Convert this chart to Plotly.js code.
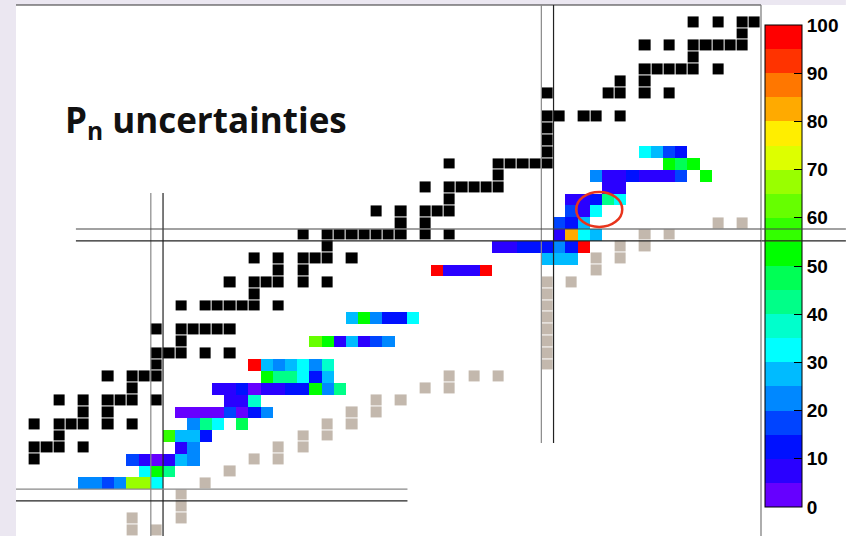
<!DOCTYPE html>
<html><head><meta charset="utf-8">
<script src="https://cdn.plot.ly/plotly-3.0.1.min.js"></script>
<style>html,body{margin:0;padding:0;background:#fff;}#chart{width:847px;height:536px;}</style>
</head><body><div id="chart"></div>
<script>
// Stable nuclides (black squares): proton number Z, neutron number N
const stableZ = [31, 32,32,32,32, 33, 34,34,34,34,34,34, 35,35, 36,36,36,36,36,36, 37, 38,38,38,38, 39,
  40,40,40,40,40, 41, 42,42,42,42,42,42, 44,44,44,44,44,44,44, 45, 46,46,46,46,46,46, 47,47,
  48,48,48,48,48,48, 49, 50,50,50,50,50,50,50,50,50,50, 51,51, 52,52,52,52,52, 53,
  54,54,54,54,54,54, 55, 56,56,56,56,56,56, 57, 58, 59, 60,60,60,60,60, 62,62,62,62,62, 63,63,
  64,64,64,64,64,64, 65, 66,66,66,66,66,66,66, 67, 68,68,68,68];
const stableN = [40, 40,41,42,44, 42, 40,42,43,44,46,48, 44,46, 42,44,46,47,48,50, 48, 46,48,49,50, 50,
  50,51,52,54,56, 52, 50,52,53,54,55,56, 52,54,55,56,57,58,60, 58, 56,58,59,60,62,64, 60,62,
  58,60,62,63,64,66, 64, 62,64,65,66,67,68,69,70,72,74, 70,72, 68,70,72,73,74, 74,
  72,74,75,76,77,78, 78, 74,78,79,80,81,82, 82, 82, 82, 82,83,85,86,88, 82,87,88,90,92, 88,90,
  90,91,92,93,94,96, 94, 90,92,94,95,96,97,98, 98, 94,96,98,99];

// Grey squares
const greyZ = [25,26,25,26,27,28,29,30,31,31,32,32,33,33,34,34,35,35,36,36,37,37,38,38,38,
  39,40,41,42,43,44,45,46,46,47,48,48,49,49,50,50,51,51];
const greyN = [48,48,50,52,52,52,54,56,58,60,60,62,62,64,64,66,66,68,68,70,72,74,74,76,78,
  82,82,82,82,82,82,82,82,84,86,86,88,88,90,90,92,96,98];

// Pn uncertainties (%) : Z, N, value
const pnZ = [29,29,29,29,29,29,29, 30,30,30, 31,31,31,31,31,31, 32,32, 33,33,33,33, 34,34,34,34,
  35,35,35,35,35,35,35,35, 36,36,36, 37,37,37,37,37,37,37,37,37,37,37, 38,38,38,38,38,38,
  39,39,39,39,39,39,39, 41,41,41,41,41,41,41, 43,43,43,43,43,43, 47,47,47,47,47, 48,48,48,
  49,49,49,49,49,49,49,49, 50,50,50,50, 51,51,51, 52,52,52, 53,53,53,53,53, 54,54,
  55,55,55,55,55,55,55,55,55, 56,56,56, 57,57,57,57];
const pnN = [44,45,46,47,48,49,50, 49,50,51, 48,49,50,51,52,53, 52,53, 51,52,53,54, 53,54,55,57,
  52,53,54,55,56,57,58,59, 56,57,58, 55,56,57,58,59,60,61,62,63,64,65, 59,60,61,62,63,64,
  58,59,60,61,62,63,64, 63,64,65,66,67,68,69, 66,67,68,69,70,71, 73,74,75,76,77, 82,83,84,
  78,79,80,81,82,83,84,85, 83,84,85,86, 83,84,85, 84,85,86, 84,85,86,87,88, 87,88,
  86,87,88,89,90,91,92,93,95, 92,93,94, 90,91,92,93];
const pnUnc = [22.5,22.5,17.5,22.5,67.5,67.5,32.5, 32.5,52.5,42.5, 17.5,7.5,2.5,7.5,27.5,22.5, 7.5,22.5,
  57.5,27.5,27.5,12.5, 22.5,42.5,32.5,47.5,
  2.5,2.5,2.5,2.5,17.5,2.5,12.5,22.5, 7.5,7.5,37.5,
  7.5,7.5,12.5,2.5,7.5,7.5,12.5,12.5,52.5,22.5,42.5, 52.5,42.5,42.5,32.5,12.5,27.5,
  97.5,27.5,22.5,27.5,32.5,22.5,37.5, 62.5,52.5,7.5,27.5,7.5,17.5,22.5, 27.5,52.5,22.5,12.5,12.5,32.5,
  97.5,7.5,7.5,7.5,97.5, 27.5,27.5,27.5,
  7.5,7.5,12.5,12.5,12.5,22.5,12.5,97.5, 7.5,82.5,32.5,27.5, 17.5,12.5,27.5, 17.5,7.5,32.5,
  7.5,7.5,12.5,42.5,32.5, 7.5,7.5,
  22.5,7.5,7.5,12.5,7.5,7.5,7.5,17.5,52.5, 52.5,47.5,52.5, 32.5,27.5,17.5,12.5];

// Colour bar: 20 bins of 5 %, from 0 to 100
const binColors = ['#6600ff','#2a00ff','#0011ff','#0044ff','#0088ff','#00bbff','#00ffff','#00ffcc',
  '#00ff88','#00ff55','#00ff00','#33ff00','#66ff00','#99ff00','#ddff00','#ffee00','#ffaa00',
  '#ff7700','#ff3300','#ff0000'];
const colorTicks = [0,10,20,30,40,50,60,70,80,90,100];

// grid of the chart
const Ns = []; for (let n = 39; n <= 99; n++) Ns.push(n);
const Zs = []; for (let z = 24; z <= 69; z++) Zs.push(z);
function grid(zl, nl, vals) {
  const g = Zs.map(() => Ns.map(() => null));
  zl.forEach((z, i) => { g[z - Zs[0]][nl[i] - Ns[0]] = vals ? vals[i] : 1; });
  return g;
}
const cscale = [];
binColors.forEach((c, i) => { cscale.push([i / 20, c]); cscale.push([(i + 1) / 20, c]); });

const W = 847, H = 536, L = 16, R = 85, T = 5, B = 0;
const pw = W - L - R, ph = H - T - B;
const px = v => (v - L) / pw;          // pixel -> paper x
const py = v => 1 - (v - T) / ph;      // pixel -> paper y

const traces = [
  {type:'heatmap', x:Ns, y:Zs, z:grid(greyZ, greyN), colorscale:[[0,'#c3b8ad'],[1,'#c3b8ad']],
   zmin:0, zmax:1, showscale:false, xgap:1, ygap:1, hoverinfo:'skip'},
  {type:'heatmap', x:Ns, y:Zs, z:grid(stableZ, stableN), colorscale:[[0,'#000'],[1,'#000']],
   zmin:0, zmax:1, showscale:false, xgap:1, ygap:1, hoverinfo:'skip'},
  {type:'heatmap', x:Ns, y:Zs, z:grid(pnZ, pnN, pnUnc), colorscale:cscale, zmin:0, zmax:100,
   hoverinfo:'skip',
   colorbar:{thickness:37, thicknessmode:'pixels', len:482, lenmode:'pixels',
     x:px(765), xanchor:'left', y:py(266), yanchor:'middle', xpad:0, ypad:0,
     outlinewidth:1, outlinecolor:'#000', ticks:'inside', ticklen:8, tickwidth:1, tickcolor:'#000',
     tickvals:colorTicks, ticktext:colorTicks.map(String),
     tickfont:{family:'Liberation Sans, Arial, sans-serif', size:19, color:'#000', weight:'bold'}}}
];

const lav = '#ebe7f1';
const shapes = [
  {type:'rect', xref:'paper', yref:'paper', x0:px(0), x1:px(16), y0:0, y1:py(0), fillcolor:lav, line:{width:0}, layer:'below'},
  {type:'rect', xref:'paper', yref:'paper', x0:px(0), x1:px(847), y0:py(5), y1:py(0), fillcolor:lav, line:{width:0}, layer:'below'},
  {type:'line', xref:'paper', yref:'paper', x0:0, x1:1, y0:1, y1:1, line:{color:'#333', width:1.2}},
  {type:'line', xref:'paper', yref:'paper', x0:1, x1:1, y0:0, y1:1, line:{color:'#777', width:1.2}},
  // N = 50
  {type:'line', xref:'x', yref:'y', x0:49.5, x1:49.5, y0:20, y1:53.55, line:{color:'#888', width:1.2}},
  {type:'line', xref:'x', yref:'y', x0:50.5, x1:50.5, y0:20, y1:53.55, line:{color:'#222', width:1.2}},
  // N = 82
  {type:'line', xref:'x', yref:'y', x0:81.5, x1:81.5, y0:32.4, y1:72, line:{color:'#888', width:1.2}},
  {type:'line', xref:'x', yref:'y', x0:82.5, x1:82.5, y0:32.4, y1:72, line:{color:'#222', width:1.2}},
  // Z = 28
  {type:'line', xref:'x', yref:'y', x0:30, x1:70.53, y0:28.5, y1:28.5, line:{color:'#888', width:1.2}},
  {type:'line', xref:'x', yref:'y', x0:30, x1:70.53, y0:27.5, y1:27.5, line:{color:'#222', width:1.2}},
  // Z = 50
  {type:'line', xref:'paper', yref:'y', x0:px(76), x1:1, y0:50.5, y1:50.5, line:{color:'#444', width:1.2}},
  {type:'line', xref:'paper', yref:'y', x0:px(76), x1:1, y0:49.5, y1:49.5, line:{color:'#222', width:1.2}},
  // highlight ellipse
  {type:'circle', xref:'x', yref:'y', x0:84.36, x1:88.13, y0:50.67, y1:53.64, line:{color:'#e8341c', width:2.5}}
];

// Z = 50 lines continuing across the colour bar (drawn above it)
const zLines = [{y:50.5, c:'#444'}, {y:49.5, c:'#222'}].map(o => ({
  xref:'paper', yref:'y', x:px(847), y:o.y, ax:-86, ay:0, axref:'pixel', ayref:'pixel',
  text:'', showarrow:true, arrowhead:0, arrowwidth:1.2, arrowcolor:o.c, standoff:0, startstandoff:0}));

const ax = {showgrid:false, zeroline:false, showticklabels:false, ticks:'', showline:false, fixedrange:true};
const layout = {
  width:W, height:H, margin:{l:L, r:R, t:T, b:B, pad:0},
  paper_bgcolor:'#fff', plot_bgcolor:'#fff',
  xaxis:Object.assign({range:[38.452, 99.5]}, ax),
  yaxis:Object.assign({range:[24.527, 69.451]}, ax),
  shapes:shapes,
  showlegend:false,
  annotations:[{xref:'paper', yref:'paper', x:px(63), y:py(121), xanchor:'left', yanchor:'middle',
    text:'P<sub>n</sub> uncertainties', showarrow:false,
    font:{family:'Open Sans, sans-serif', size:35, color:'#111', weight:'bold'}}].concat(zLines)
};
Plotly.newPlot('chart', traces, layout, {staticPlot:true, displayModeBar:false});
</script></body></html>
